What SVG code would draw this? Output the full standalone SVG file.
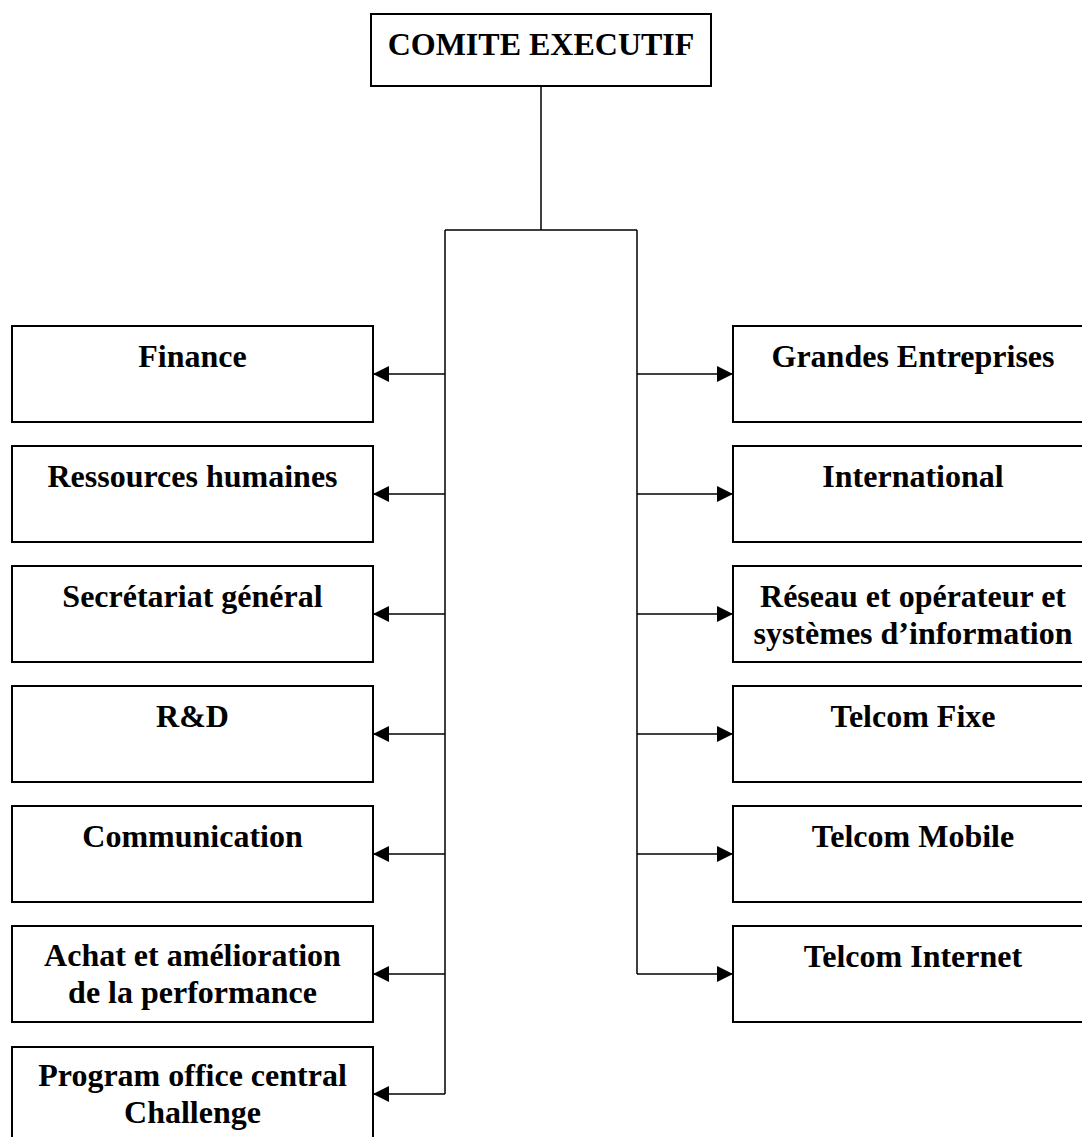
<svg xmlns="http://www.w3.org/2000/svg" width="1082" height="1137" viewBox="0 0 1082 1137">
  <style>
    .box { fill: #ffffff; stroke: #000000; stroke-width: 2; }
    .lbl { font-family: "Liberation Serif", "Times New Roman", serif; font-weight: bold; font-size: 32px; fill: #000000; text-anchor: middle; }
    .wire { fill: none; stroke: #000000; stroke-width: 1.5; }
    .arrow { fill: none; stroke: #000000; stroke-width: 1.5; marker-end: url(#head); }
  </style>
  <defs>
    <marker id="head" markerUnits="userSpaceOnUse" markerWidth="16" markerHeight="16" refX="16" refY="8" orient="auto">
      <path d="M0,0 L16,8 L0,16 Z" fill="#000000"/>
    </marker>
  </defs>
  <rect width="1082" height="1137" fill="#ffffff"/>

  <!-- connectors -->
  <g id="connectors">
    <path class="wire" d="M541,86 V230 M445,230 H637 M445,230 V1094 M637,230 V974"/>
    <!-- left branches -->
    <line class="arrow" x1="445" y1="374" x2="373" y2="374"/>
    <line class="arrow" x1="445" y1="494" x2="373" y2="494"/>
    <line class="arrow" x1="445" y1="614" x2="373" y2="614"/>
    <line class="arrow" x1="445" y1="734" x2="373" y2="734"/>
    <line class="arrow" x1="445" y1="854" x2="373" y2="854"/>
    <line class="arrow" x1="445" y1="974" x2="373" y2="974"/>
    <line class="arrow" x1="445" y1="1094" x2="373" y2="1094"/>
    <!-- right branches -->
    <line class="arrow" x1="637" y1="374" x2="733" y2="374"/>
    <line class="arrow" x1="637" y1="494" x2="733" y2="494"/>
    <line class="arrow" x1="637" y1="614" x2="733" y2="614"/>
    <line class="arrow" x1="637" y1="734" x2="733" y2="734"/>
    <line class="arrow" x1="637" y1="854" x2="733" y2="854"/>
    <line class="arrow" x1="637" y1="974" x2="733" y2="974"/>
  </g>

  <g id="comite">
    <rect class="box" x="371" y="14" width="340" height="72"/>
    <text class="lbl" x="541" y="55">COMITE EXECUTIF</text>
  </g>

  <!-- left column -->
  <g id="finance">
    <rect class="box" x="12" y="326" width="361" height="96"/>
    <text class="lbl" x="192.5" y="367">Finance</text>
  </g>
  <g id="rh">
    <rect class="box" x="12" y="446" width="361" height="96"/>
    <text class="lbl" x="192.5" y="487">Ressources humaines</text>
  </g>
  <g id="secretariat">
    <rect class="box" x="12" y="566" width="361" height="96"/>
    <text class="lbl" x="192.5" y="607">Secrétariat général</text>
  </g>
  <g id="rd">
    <rect class="box" x="12" y="686" width="361" height="96"/>
    <text class="lbl" x="192.5" y="727">R&amp;D</text>
  </g>
  <g id="communication">
    <rect class="box" x="12" y="806" width="361" height="96"/>
    <text class="lbl" x="192.5" y="847">Communication</text>
  </g>
  <g id="achat">
    <rect class="box" x="12" y="926" width="361" height="96"/>
    <text class="lbl" x="192.5" y="966">Achat et amélioration</text>
    <text class="lbl" x="192.5" y="1003">de la performance</text>
  </g>
  <g id="program-office">
    <rect class="box" x="12" y="1047" width="361" height="100"/>
    <text class="lbl" x="192.5" y="1086">Program office central</text>
    <text class="lbl" x="192.5" y="1123">Challenge</text>
  </g>

  <!-- right column -->
  <g id="grandes-entreprises">
    <rect class="box" x="733" y="326" width="361" height="96"/>
    <text class="lbl" x="913" y="367">Grandes Entreprises</text>
  </g>
  <g id="international">
    <rect class="box" x="733" y="446" width="361" height="96"/>
    <text class="lbl" x="913" y="487">International</text>
  </g>
  <g id="reseau">
    <rect class="box" x="733" y="566" width="361" height="96"/>
    <text class="lbl" x="913" y="607">Réseau et opérateur et</text>
    <text class="lbl" x="913" y="644">systèmes d’information</text>
  </g>
  <g id="telcom-fixe">
    <rect class="box" x="733" y="686" width="361" height="96"/>
    <text class="lbl" x="913" y="727">Telcom Fixe</text>
  </g>
  <g id="telcom-mobile">
    <rect class="box" x="733" y="806" width="361" height="96"/>
    <text class="lbl" x="913" y="847">Telcom Mobile</text>
  </g>
  <g id="telcom-internet">
    <rect class="box" x="733" y="926" width="361" height="96"/>
    <text class="lbl" x="913" y="967">Telcom Internet</text>
  </g>
</svg>
